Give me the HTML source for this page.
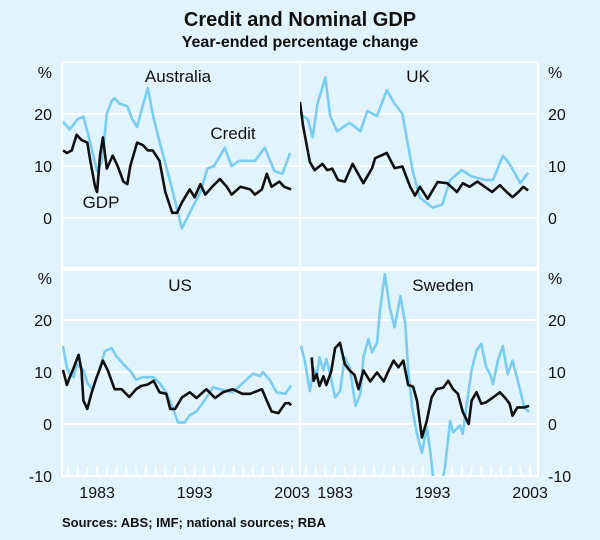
<!DOCTYPE html>
<html><head><meta charset="utf-8">
<style>
body{margin:0;background:#e1f3fc;}
svg{display:block;font-family:"Liberation Sans",Arial,sans-serif;}
</style></head>
<body>
<svg id="chart" width="600" height="540" viewBox="0 0 600 540">
<rect x="0" y="0" width="600" height="540" fill="#e1f3fc"/>
<text x="300" y="26" text-anchor="middle" font-size="20" font-weight="bold" fill="#111">Credit and Nominal GDP</text>
<text x="300" y="47" text-anchor="middle" font-size="16" font-weight="bold" fill="#111">Year-ended percentage change</text>
<g id="grid"></g>
<g id="series"></g>
<g id="labels"></g>
<text x="62" y="527" font-size="13" font-weight="bold" fill="#111">Sources: ABS; IMF; national sources; RBA</text>
</svg>
<script>
// ---- data ----
const yTicks = [20, 10, 0, -10];
const xTickLabels = ["1983", "1993", "2003"];
const xTickYears = [1983, 1993, 2003];

const ausCreditDates = [1979.5,1980.2,1981.0,1981.6,1982.1,1982.6,1983.0,1983.5,1984.0,1984.5,1984.8,1985.3,1986.1,1986.6,1987.1,1987.6,1988.2,1988.7,1989.4,1990.5,1991.7,1992.5,1993.6,1994.3,1995.0,1996.1,1996.8,1997.6,1999.2,2000.2,2001.2,2002.0,2002.8];
const ausCreditValues = [18.5,17,19,19.5,16,12,9,11,20,22.5,23,22,21.5,19,17.5,21,25,20,14.7,7,-2,1,5,9.5,10,13.5,10,11,11,13.5,9,8.5,12.5];
const ausGdpDates = [1979.5,1979.9,1980.4,1980.9,1981.4,1982.0,1982.3,1982.8,1983.0,1983.3,1983.6,1984.0,1984.6,1985.1,1985.7,1986.1,1986.4,1987.1,1987.7,1988.2,1988.7,1989.4,1990.0,1990.7,1991.2,1991.7,1992.5,1993.0,1993.6,1994.1,1994.8,1995.6,1996.3,1996.8,1997.7,1998.7,1999.2,1999.9,2000.4,2000.9,2001.7,2002.2,2002.9];
const ausGdpValues = [13,12.5,13,16,15,14.5,11,6,5,12,15.5,9.5,12,10,7,6.5,10,14.5,14,13,13,11,5,1,1,3,5.5,4,6.5,4.5,6,7.5,6,4.5,6,5.5,4.5,5.5,8.5,6,7,6,5.5];

const ukCreditDates = [1979.4,1980.2,1980.7,1981.2,1982.0,1982.5,1983.2,1984.5,1985.6,1986.3,1987.3,1988.3,1989.1,1989.9,1990.5,1991.0,1991.7,1993.0,1994.0,1994.8,1996.0,1997.0,1998.4,1999.2,2000.2,2000.9,2002.0,2002.8];
const ukCreditValues = [20,19,15.5,22,27,19.6,16.7,18.3,16.7,20.6,19.6,24.6,22,20,13.8,8.7,3.9,2,2.6,7.3,9.2,8,7.3,7.3,12,10.4,6.7,8.7];
const ukGdpDates = [1979.4,1979.7,1980.4,1980.9,1981.7,1982.2,1982.7,1983.3,1984.0,1984.8,1985.9,1986.8,1987.1,1988.3,1989.1,1989.9,1990.7,1991.2,1991.7,1992.5,1993.5,1994.5,1995.5,1996.1,1996.8,1997.6,1999.1,1999.9,2000.6,2001.2,2001.8,2002.3,2002.8];
const ukGdpValues = [22.3,17.9,10.8,9.2,10.4,9.2,9.5,7.3,7,10.4,6.7,9.6,11.5,12.5,9.6,9.9,6,4.3,6,3.7,6.9,6.7,5,6.7,6,7,5,6.3,5,4,5,6,5.3];

const usCreditDates = [1979.5,1979.9,1980.2,1980.6,1980.9,1981.6,1982.0,1982.5,1983.1,1983.8,1984.5,1985.0,1985.7,1986.5,1987.0,1987.7,1988.8,1989.4,1990.1,1990.8,1991.3,1992.0,1992.5,1993.2,1993.9,1994.9,1995.9,1996.9,1998.3,1999.0,1999.7,2000.0,2000.7,2001.4,2002.3,2002.9];
const usCreditValues = [15,10.8,9.6,9,11.5,10.4,7.9,6.7,9.6,14,14.6,13,11.5,10,8.5,9,9,7.9,6,2.9,0.3,0.3,1.7,2.4,4.2,7.1,6.5,6.1,8.5,9.7,9.2,10,8.5,6.1,5.8,7.4];
const usGdpDates = [1979.5,1979.9,1980.2,1980.6,1981.1,1981.4,1981.6,1982.0,1982.4,1982.9,1983.6,1984.1,1984.8,1985.5,1986.3,1987.0,1987.5,1988.2,1988.8,1989.4,1990.1,1990.5,1991.0,1991.7,1992.5,1993.2,1994.2,1995.1,1995.9,1996.9,1997.9,1998.7,1999.9,2000.4,2000.9,2001.6,2002.3,2002.7,2002.9];
const usGdpValues = [10.4,7.5,9,10.8,13.3,10.3,4.5,2.9,5.8,8.7,12.2,10.3,6.7,6.7,5.2,6.7,7.3,7.6,8.3,6.1,5.8,2.9,2.9,5.1,6.1,5,6.7,5,6.1,6.7,5.8,5.8,6.7,4.5,2.4,2.1,4,4,3.6];

const sweCreditDates = [1979.5,1979.9,1980.4,1980.8,1981.1,1981.4,1981.8,1982.1,1982.5,1983.0,1983.5,1984.0,1984.5,1985.1,1985.6,1985.9,1986.4,1986.8,1987.3,1987.6,1988.1,1988.6,1989.1,1989.7,1990.2,1990.5,1990.9,1991.4,1991.9,1992.4,1992.8,1993.1,1993.8,1994.3,1994.8,1995.1,1995.8,1996.1,1996.5,1997.0,1997.5,1998.0,1998.5,1998.9,1999.2,1999.7,2000.2,2000.7,2001.2,2001.9,2002.4,2002.9];
const sweCreditValues = [15,12.1,6.3,10.8,9,12.8,10.3,12.5,9.6,5.1,6.3,12.8,10.8,3.5,5.8,12.8,16.3,13.8,15.6,21.7,28.8,22.4,18.6,24.6,19.2,10.3,3.2,-2,-5.5,-0.6,-5.8,-11,-13.5,-7.7,0.6,-1.6,-0.3,-1.9,3.8,10.3,14.1,15.4,10.9,9.6,7.7,12.2,15,9.6,12.2,7.1,3.2,2.3];
const sweGdpDates = [1980.6,1980.8,1981.1,1981.4,1981.8,1982.1,1982.6,1983.0,1983.5,1984.0,1984.5,1985.0,1985.4,1985.9,1986.6,1987.3,1988.0,1988.5,1989.0,1989.5,1990.0,1990.5,1991.0,1991.4,1991.9,1992.4,1992.9,1993.4,1994.1,1994.6,1995.1,1995.6,1996.1,1996.7,1997.0,1997.5,1998.0,1998.5,1999.2,1999.9,2000.4,2000.9,2001.2,2001.7,2002.4,2002.9];
const sweGdpValues = [12.8,8.3,9.6,7.3,9.2,7.5,10.1,14.6,15.6,11.5,10.3,9.4,6.7,10.3,8.2,9.9,8.2,10.3,12.2,10.9,12.2,7.5,7.2,4.5,-2.6,0.6,5.1,6.7,7,8.3,6.7,5.8,2.3,0,4.5,6.1,3.9,4.2,5.1,6.1,5.1,3.9,1.6,3.2,3.2,3.5];

// ---- axes ----
const panelW = 238, x0L = 62, startYear = 1979.4, pxPerYear = 9.75;
const yTop = [62, 268], pxPerUnit = 5.2, yMax = 30, yMin = -10;
function xScale(t, col){ return x0L + col*panelW + (t - startYear)*pxPerYear; }
function yScale(v, row){ return yTop[row] + (yMax - v)*pxPerUnit; }

const NS = "http://www.w3.org/2000/svg";
function mk(tag, attrs, parent){ const e=document.createElementNS(NS,tag); for(const k in attrs) e.setAttribute(k,attrs[k]); parent.appendChild(e); return e; }
const grid = document.getElementById('grid');
const series = document.getElementById('series');
const labels = document.getElementById('labels');

// clip paths per panel
const defs = mk('defs', {}, document.getElementById('chart'));
for(let r=0;r<2;r++) for(let c=0;c<2;c++){
  const cp = mk('clipPath', {id:'clip'+r+c}, defs);
  mk('rect', {x:x0L+c*panelW, y:yTop[r], width:panelW, height:(yMax-yMin)*pxPerUnit}, cp);
}

// gridlines
for(let r=0;r<2;r++){
  for(const v of [30,20,10,0,-10]){
    const y = yScale(v,r);
    const l = mk('line', {x1:x0L, x2:x0L+2*panelW, y1:y, y2:y, stroke:'#fff', 'stroke-width':2}, grid);
    
    
  }
}
for(const x of [x0L, x0L+panelW, x0L+2*panelW]){
  const l = mk('line', {x1:x, x2:x, y1:yTop[0], y2:yScale(yMin,1), stroke:'#fff', 'stroke-width':2}, grid);
  
  
}
// year ticks
for(let c=0;c<2;c++){
  for(let yr=1980; yr<=2003; yr++){
    const x = xScale(yr,c);
    if (x > x0L+(c+1)*panelW-1) continue;
    const t = mk('line', {x1:x, x2:x, y1:yScale(yMin,1), y2:yScale(yMin,1)-10, stroke:'#fff', 'stroke-width':1.5}, grid);
    
    
  }
  xTickYears.forEach((yr,i)=>{
    const tx = mk('text', {x:xScale(yr,c), y:498, 'text-anchor':'middle', 'font-size':16, fill:'#111'}, labels);
    tx.textContent = xTickLabels[i];
    
    
  });
}
// y tick labels
for(let r=0;r<2;r++){
  for(const side of [0,1]){
    const p = mk('text', {x: side? 548:52, y:yTop[r]+16, 'text-anchor': side?'start':'end', 'font-size':16, fill:'#111'}, labels);
    p.textContent = '%';
    
    
    yTicks.forEach(v=>{
      if (r===0 && v===-10) return;
      const t = mk('text', {x: side? 548:52, y:yScale(v,r)+6, 'text-anchor': side?'start':'end', 'font-size':16, fill:'#111'}, labels);
      t.textContent = String(v);
      
      
    });
  }
}
// series
function drawLine(dates, vals, row, col, color, name){
  const d = dates.map((t,i)=>(i?'L':'M')+xScale(t,col).toFixed(1)+','+yScale(vals[i],row).toFixed(1)).join(' ');
  const p = mk('path', {d:d, fill:'none', stroke:color, 'stroke-width':2.6, 'stroke-linejoin':'round', 'clip-path':'url(#clip'+row+col+')'}, series);
  
  
}
const CRED = '#79cdf2', GDP = '#111';
drawLine(ausCreditDates, ausCreditValues, 0, 0, CRED, 'australia-credit-line');
drawLine(ausGdpDates, ausGdpValues, 0, 0, GDP, 'australia-gdp-line');
drawLine(ukCreditDates, ukCreditValues, 0, 1, CRED, 'uk-credit-line');
drawLine(ukGdpDates, ukGdpValues, 0, 1, GDP, 'uk-gdp-line');
drawLine(usCreditDates, usCreditValues, 1, 0, CRED, 'us-credit-line');
drawLine(usGdpDates, usGdpValues, 1, 0, GDP, 'us-gdp-line');
drawLine(sweCreditDates, sweCreditValues, 1, 1, CRED, 'sweden-credit-line');
drawLine(sweGdpDates, sweGdpValues, 1, 1, GDP, 'sweden-gdp-line');

// panel titles & annotations
const txts = [
  ['Australia',178,82,'panel-title-australia'],
  ['UK',418,82,'panel-title-uk'],
  ['US',180,291,'panel-title-us'],
  ['Sweden',443,291,'panel-title-sweden'],
  ['Credit',233,139,'credit-annotation'],
  ['GDP',101,208,'gdp-annotation']
];
txts.forEach(a=>{
  const t = mk('text', {x:a[1], y:a[2], 'text-anchor':'middle', 'font-size':17, fill:'#111'}, labels);
  t.textContent = a[0];
  
  
});
</script>
</body></html>
